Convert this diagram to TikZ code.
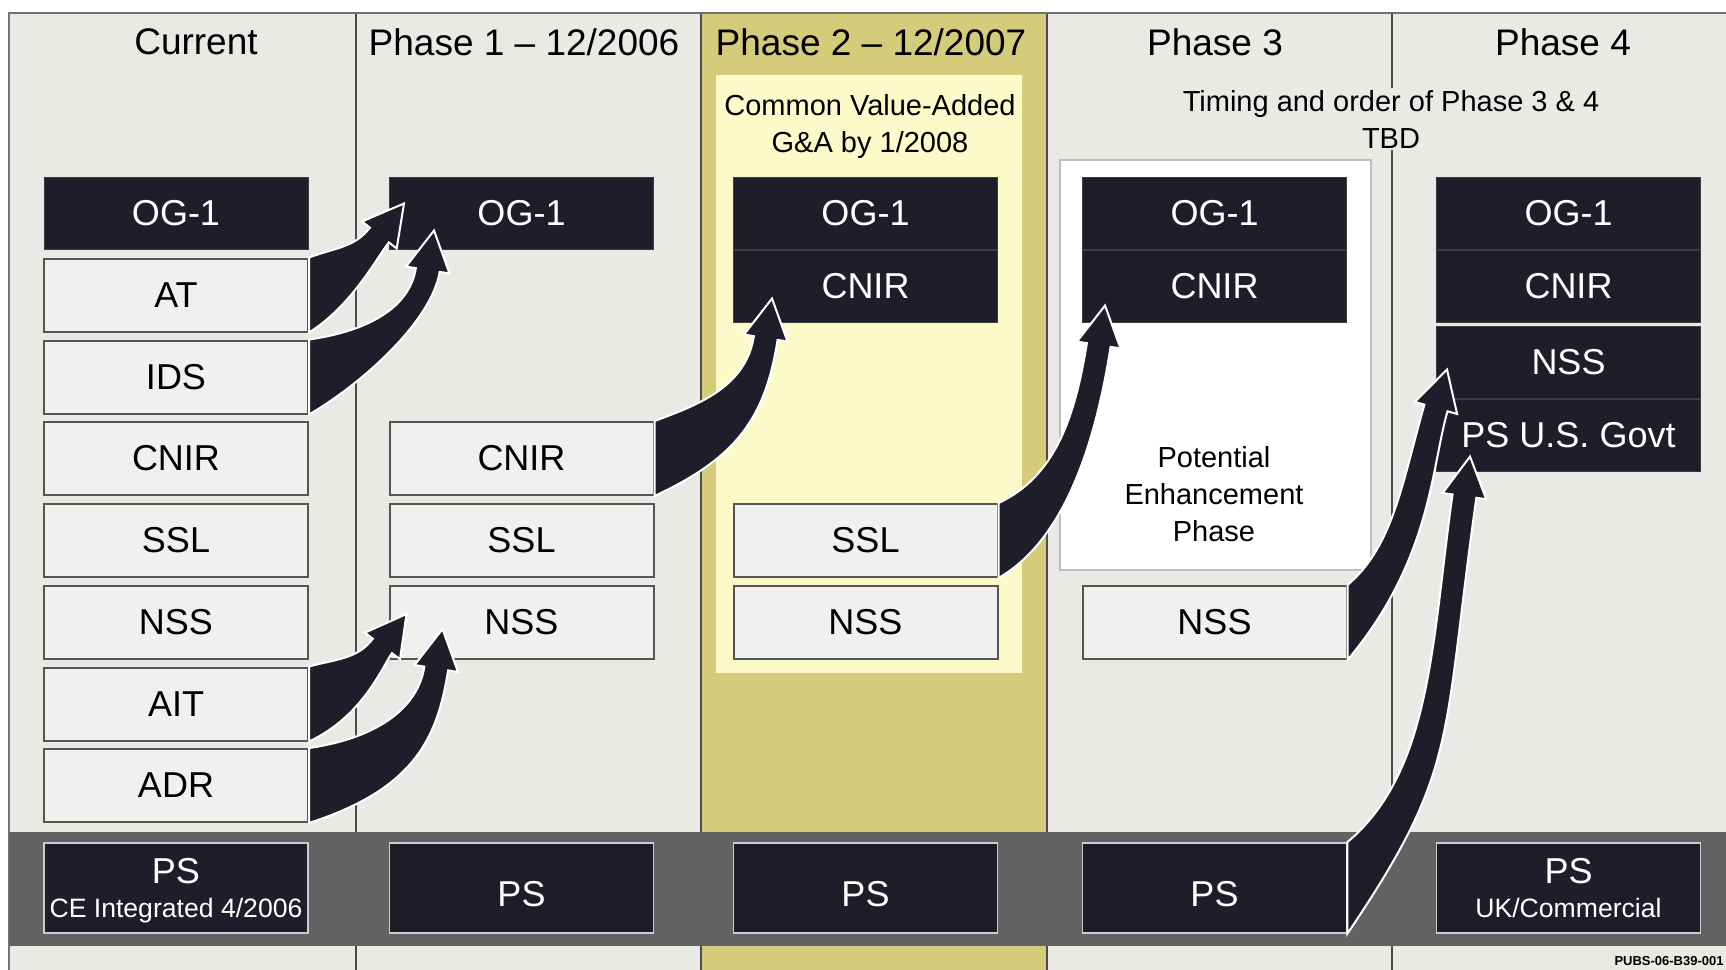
\documentclass[tikz,border=0pt]{standalone}
\usepackage{fontspec}
\setmainfont{Liberation Sans}
\usetikzlibrary{calc,positioning}

\definecolor{pagebg}{RGB}{233,233,230}
\definecolor{olive}{RGB}{212,204,122}
\definecolor{paleyellow}{RGB}{252,250,200}
\definecolor{bandgray}{RGB}{98,98,98}
\definecolor{navy}{RGB}{30,30,42}
\definecolor{boxfill}{RGB}{240,240,238}
\definecolor{boxline}{RGB}{85,85,85}

% #1 source box, #2 tip, #3 angle at tip, #4 outer start ctrl, #5 outer end length,
% #6 inner start length, #7 inner end ctrl
\newcommand{\movearrow}[7]{%
  \path (#2) ++(#3+180:40) coordinate (hb);
  \fill[migr] (#1.north east) .. controls +(#4) and +(#3+180:#5) .. ($(hb)+(#3-90:12)$)
    -- ($(hb)+(#3-90:22)$) -- (#2) -- ($(hb)+(#3+90:22)$) -- ($(hb)+(#3+90:12)$)
    .. controls +(#3+180:#6) and +(#7) .. (#1.south east) -- cycle;
}

\begin{document}
\begin{tikzpicture}[x=0.5pt, y=-0.5pt,
    head/.style={font=\fontsize{18.5}{22}\selectfont},
    note/.style={font=\fontsize{14.5}{18.5}\selectfont, align=center},
    litebox/.style={draw=boxline, fill=boxfill, line width=1pt, minimum width=132pt,
        minimum height=36.5pt, inner sep=0pt, font=\fontsize{18}{21}\selectfont},
    darkbox/.style={draw=black!60!navy!80!white, fill=navy, line width=0.5pt, text=white,
        minimum width=132pt, minimum height=36pt, inner sep=0pt, font=\fontsize{18}{21}\selectfont},
    psbox/.style={darkbox, draw=white!80!black, line width=0.8pt, minimum height=45pt,
        align=center, font=\fontsize{18}{17}\selectfont, text depth=0pt},
    psone/.style={psbox, text height=18pt},
    divider/.style={draw=black!70, line width=0.8pt},
    migr/.style={fill=navy, draw=white, line width=1pt}]
    \useasboundingbox (0,0) rectangle (1726,970);
    \fill[white] (0,0) rectangle (1726,970);
    \fill[pagebg] (9,13) rectangle (1726,970);
    % phase 2 column
    \fill[olive] (701,13) rectangle (1047,970);
    \fill[paleyellow] (716,75) rectangle (1022,673);
    \filldraw[fill=white, draw=black!25, line width=0.8pt] (1060,160) rectangle (1371,570);
    \draw[divider] (356,13) -- (356,970);
    \draw[divider] (701,13) -- (701,970);
    \draw[divider] (1047,13) -- (1047,970);
    \draw[divider] (1392,13) -- (1392,970);
    \draw[black!55, line width=0.8pt] (1726,13) -- (9,13) -- (9,970);
    \fill[bandgray] (9,832) rectangle (1726,946);

    \node[head] (hcur) at (196,42) {Current};
    \node[head] (hone) at (524,42) {Phase 1 -- 12/2006};
    \node[head] (htwo) at (871,42) {Phase 2 -- 12/2007};
    \node[head] (hthree) at (1215,42) {Phase 3};
    \node[head] (hfour) at (1563,42) {Phase 4};
    \node[note] (gna) at (870,126) {Common Value-Added\\G\&A by 1/2008};
    \node[note, fill=pagebg, inner sep=1pt] (tbd) at (1391,119) {Timing and order of Phase 3 \& 4\\TBD};
    \node[note] (enh) at (1214,494) {Potential\\Enhancement\\Phase};

    % current
    \node[darkbox] (oga) at (176,213) {OG-1};
    \node[litebox] (at) at (176,295) {AT};
    \node[litebox] (ids) at (176,377) {IDS};
    \node[litebox] (cnira) at (176,458.5) {CNIR};
    \node[litebox] (ssla) at (176,540.5) {SSL};
    \node[litebox] (nssa) at (176,622.5) {NSS};
    \node[litebox] (ait) at (176,704) {AIT};
    \node[litebox] (adr) at (176,785.5) {ADR};
    \node[psbox] (psa) at (176,888) {PS\\{\fontsize{13.3}{16}\selectfont CE Integrated 4/2006}};
    % phase 1
    \node[darkbox] (ogb) at (521.5,213) {OG-1};
    \node[litebox] (cnirb) at (521.5,458.5) {CNIR};
    \node[litebox] (sslb) at (521.5,540.5) {SSL};
    \node[litebox] (nssb) at (521.5,622.5) {NSS};
    \node[psone] (psb) at (521.5,888) {PS};
    % phase 2
    \node[darkbox] (ogc) at (865.5,213) {OG-1};
    \node[darkbox, below=0pt of ogc] (cnirc) {CNIR};
    \node[litebox] (sslc) at (865.5,540.5) {SSL};
    \node[litebox] (nssc) at (865.5,622.5) {NSS};
    \node[psone] (psc) at (865.5,888) {PS};
    % phase 3
    \node[darkbox] (ogd) at (1214.5,213) {OG-1};
    \node[darkbox, below=0pt of ogd] (cnird) {CNIR};
    \node[litebox] (nssd) at (1214.5,622.5) {NSS};
    \node[psone] (psd) at (1214.5,888) {PS};
    % phase 4
    \node[darkbox] (oge) at (1568.5,213) {OG-1};
    \node[darkbox, below=0pt of oge] (cnire) {CNIR};
    \node[darkbox, below=1.5pt of cnire] (nsse) {NSS};
    \node[darkbox, below=0pt of nsse] (psus) {PS U.S. Govt};
    \node[psbox] (pse) at (1568.5,888) {PS\\{\fontsize{13.3}{16}\selectfont UK/Commercial}};

    \node[font=\bfseries\fontsize{6.5}{8}\selectfont, anchor=east, inner sep=0pt] (pubs) at (1724,961) {PUBS-06-B39-001};

    % migration arrows
    \coordinate (tipA) at ($(ogb.south west)+(15,-46)$);
    \coordinate (tipB) at ($(ogb.south west)+(45,-19)$);
    \coordinate (tipC) at ($(cnirc.south west)+(39,-24)$);
    \coordinate (tipD) at ($(cnird.south west)+(23,-17)$);
    \coordinate (tipE) at ($(nssb.south west)+(18,-46)$);
    \coordinate (tipF) at ($(nssb.south west)+(54,-31)$);
    \coordinate (tipG) at ($(nsse.south west)+(11,-29)$);
    \coordinate (tipH) at ($(psus.south west)+(34,-15)$);
    \movearrow{at}{tipA}{-52}{-20:30}{25}{20}{-32:50}
    \movearrow{ids}{tipB}{-81}{-8:50}{45}{50}{-30:60}
    \movearrow{cnirb}{tipC}{-81}{-20:50}{50}{80}{-25:90}
    \movearrow{sslc}{tipD}{-81}{-25:60}{80}{90}{-30:80}
    \movearrow{ait}{tipE}{-53}{-15:30}{25}{15}{-25:60}
    \movearrow{adr}{tipF}{-81}{-8:55}{50}{70}{-18:110}
    \movearrow{nssd}{tipG}{-74}{-40:60}{80}{60}{-50:130}
    \movearrow{psd}{tipH}{-82}{-40:110}{150}{250}{-56:200}
\end{tikzpicture}
\end{document}
